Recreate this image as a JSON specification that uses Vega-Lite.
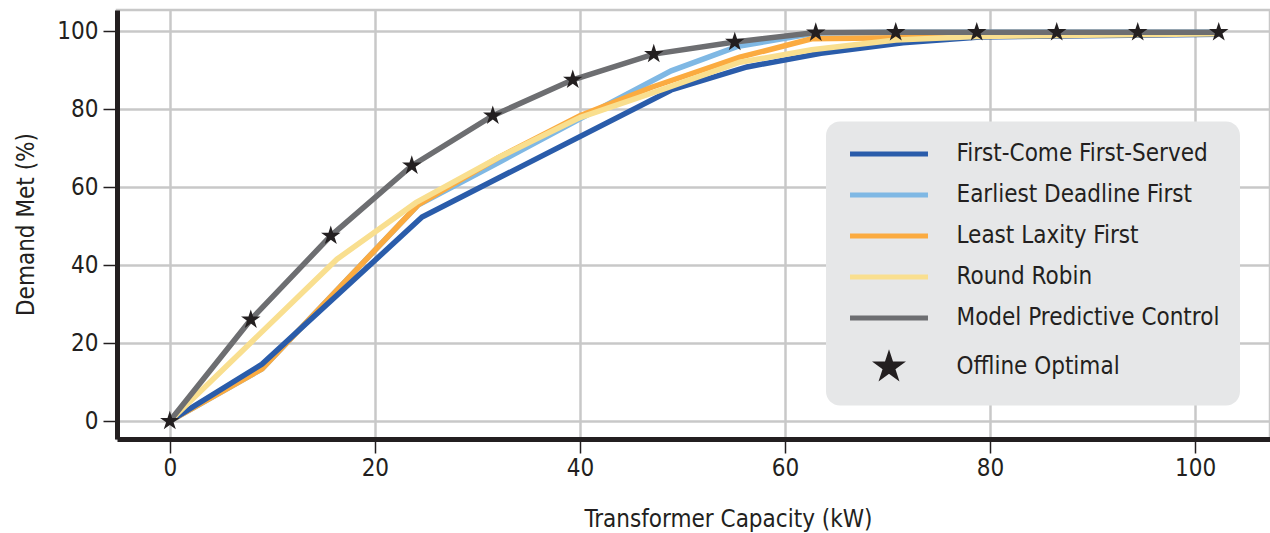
{
  "$schema": "https://vega.github.io/schema/vega-lite/v6.json",
  "width": 1153,
  "height": 429,
  "autosize": {"type": "none"},
  "padding": {"left": 117, "top": 10, "right": 0, "bottom": 94},
  "background": "white",
  "config": {
    "font": "DejaVu Sans Condensed",
    "view": {"stroke": "#c8c8c8", "strokeWidth": 2.5},
    "axis": {
      "gridColor": "#c8c8c8",
      "gridWidth": 2.5,
      "gridOpacity": 1,
      "domainColor": "#231f20",
      "domainWidth": 5,
      "tickColor": "#231f20",
      "tickWidth": 1.5,
      "tickSize": 14,
      "labelFont": "DejaVu Sans Condensed",
      "labelFontSize": 24,
      "labelColor": "#231f20",
      "titleFont": "DejaVu Sans Condensed",
      "titleFontSize": 24,
      "titleFontWeight": "normal",
      "titleColor": "#231f20"
    }
  },
  "datasets": {
    "lines": [
      {"method": "Earliest Deadline First", "capacity": 0, "demand": 0},
      {"method": "Earliest Deadline First", "capacity": 9, "demand": 13.4},
      {"method": "Earliest Deadline First", "capacity": 24.2, "demand": 55.4},
      {"method": "Earliest Deadline First", "capacity": 32.2, "demand": 66.5},
      {"method": "Earliest Deadline First", "capacity": 40, "demand": 77.5},
      {"method": "Earliest Deadline First", "capacity": 48.9, "demand": 89.8},
      {"method": "Earliest Deadline First", "capacity": 55.3, "demand": 96},
      {"method": "Earliest Deadline First", "capacity": 63, "demand": 99.5},
      {"method": "Earliest Deadline First", "capacity": 70.8, "demand": 99.7},
      {"method": "Earliest Deadline First", "capacity": 102.3, "demand": 99.7},
      {"method": "Least Laxity First", "capacity": 0, "demand": 0},
      {"method": "Least Laxity First", "capacity": 9, "demand": 13.4},
      {"method": "Least Laxity First", "capacity": 24.2, "demand": 55.4},
      {"method": "Least Laxity First", "capacity": 32, "demand": 67.5},
      {"method": "Least Laxity First", "capacity": 40, "demand": 78.3},
      {"method": "Least Laxity First", "capacity": 47, "demand": 85.6},
      {"method": "Least Laxity First", "capacity": 55.6, "demand": 93.3},
      {"method": "Least Laxity First", "capacity": 62.6, "demand": 98},
      {"method": "Least Laxity First", "capacity": 70.8, "demand": 98.3},
      {"method": "Least Laxity First", "capacity": 78.7, "demand": 98.6},
      {"method": "Least Laxity First", "capacity": 102.3, "demand": 99.3},
      {"method": "First-Come First-Served", "capacity": 0, "demand": 0},
      {"method": "First-Come First-Served", "capacity": 9, "demand": 14.6},
      {"method": "First-Come First-Served", "capacity": 24.6, "demand": 52.3},
      {"method": "First-Come First-Served", "capacity": 48.9, "demand": 84.9},
      {"method": "First-Come First-Served", "capacity": 56.3, "demand": 90.8},
      {"method": "First-Come First-Served", "capacity": 63.5, "demand": 94.3},
      {"method": "First-Come First-Served", "capacity": 71.5, "demand": 97},
      {"method": "First-Come First-Served", "capacity": 79, "demand": 98.5},
      {"method": "First-Come First-Served", "capacity": 102.3, "demand": 99.2},
      {"method": "Round Robin", "capacity": 0, "demand": 0},
      {"method": "Round Robin", "capacity": 16.3, "demand": 41.5},
      {"method": "Round Robin", "capacity": 24, "demand": 56},
      {"method": "Round Robin", "capacity": 32, "demand": 67.5},
      {"method": "Round Robin", "capacity": 40, "demand": 77.8},
      {"method": "Round Robin", "capacity": 48, "demand": 85},
      {"method": "Round Robin", "capacity": 55.6, "demand": 92},
      {"method": "Round Robin", "capacity": 62.6, "demand": 95.2},
      {"method": "Round Robin", "capacity": 70.8, "demand": 97.7},
      {"method": "Round Robin", "capacity": 78.7, "demand": 98.6},
      {"method": "Round Robin", "capacity": 102.3, "demand": 99.3},
      {"method": "Model Predictive Control", "capacity": 0, "demand": 0},
      {"method": "Model Predictive Control", "capacity": 7.9, "demand": 26},
      {"method": "Model Predictive Control", "capacity": 15.7, "demand": 47.5},
      {"method": "Model Predictive Control", "capacity": 23.6, "demand": 65.5},
      {"method": "Model Predictive Control", "capacity": 31.5, "demand": 78.3},
      {"method": "Model Predictive Control", "capacity": 39.3, "demand": 87.5},
      {"method": "Model Predictive Control", "capacity": 47.2, "demand": 94.1},
      {"method": "Model Predictive Control", "capacity": 55.1, "demand": 97.2},
      {"method": "Model Predictive Control", "capacity": 63, "demand": 99.6},
      {"method": "Model Predictive Control", "capacity": 70.8, "demand": 99.7},
      {"method": "Model Predictive Control", "capacity": 78.7, "demand": 99.7},
      {"method": "Model Predictive Control", "capacity": 86.5, "demand": 99.7},
      {"method": "Model Predictive Control", "capacity": 94.4, "demand": 99.7},
      {"method": "Model Predictive Control", "capacity": 102.3, "demand": 99.7}
    ],
    "stars": [
      {"method": "Offline Optimal", "capacity": 0, "demand": 0},
      {"method": "Offline Optimal", "capacity": 7.9, "demand": 26},
      {"method": "Offline Optimal", "capacity": 15.7, "demand": 47.5},
      {"method": "Offline Optimal", "capacity": 23.6, "demand": 65.5},
      {"method": "Offline Optimal", "capacity": 31.5, "demand": 78.3},
      {"method": "Offline Optimal", "capacity": 39.3, "demand": 87.5},
      {"method": "Offline Optimal", "capacity": 47.2, "demand": 94.1},
      {"method": "Offline Optimal", "capacity": 55.1, "demand": 97.2},
      {"method": "Offline Optimal", "capacity": 63, "demand": 99.6},
      {"method": "Offline Optimal", "capacity": 70.8, "demand": 99.7},
      {"method": "Offline Optimal", "capacity": 78.7, "demand": 99.7},
      {"method": "Offline Optimal", "capacity": 86.5, "demand": 99.7},
      {"method": "Offline Optimal", "capacity": 94.4, "demand": 99.7},
      {"method": "Offline Optimal", "capacity": 102.3, "demand": 99.7}
    ]
  },
  "encoding": {
    "x": {
      "field": "capacity",
      "type": "quantitative",
      "scale": {"domain": [-5.15, 107.3], "nice": false, "zero": false},
      "axis": {
        "title": "Transformer Capacity (kW)",
        "values": [0, 20, 40, 60, 80, 100],
        "labelPadding": 3,
        "titleX": 611,
        "titleY": 87,
        "titleBaseline": "alphabetic",
        "titleAlign": "center"
      }
    },
    "y": {
      "field": "demand",
      "type": "quantitative",
      "scale": {"domain": [-4.6, 105.4], "nice": false, "zero": false},
      "axis": {
        "title": "Demand Met (%)",
        "values": [0, 20, 40, 60, 80, 100],
        "labelPadding": 5,
        "titleX": -84,
        "titleY": 214,
        "titleAngle": -90,
        "titleBaseline": "alphabetic",
        "titleAlign": "center"
      }
    },
    "color": {
      "field": "method",
      "type": "nominal",
      "scale": {
        "domain": ["First-Come First-Served", "Earliest Deadline First", "Least Laxity First", "Round Robin", "Model Predictive Control", "Offline Optimal"],
        "range": ["#2a5caa", "#7fb8e4", "#fbab40", "#f9df8f", "#6d6e71", "#231f20"]
      },
      "legend": {
        "title": null,
        "orient": "none",
        "legendX": 709,
        "legendY": 111.5,
        "fillColor": "#e6e7e8",
        "cornerRadius": 14,
        "padding": 20,
        "symbolSize": 380,
        "symbolStrokeWidth": 5,
        "symbolOffset": 30.5,
        "labelOffset": 55,
        "rowPadding": 16,
        "labelFont": "DejaVu Sans Condensed",
        "labelFontSize": 24,
        "labelColor": "#231f20",
        "labelLimit": 500,
        "encode": {
          "symbols": {
            "update": {
              "size": {"value": 380},
              "stroke": [
                {"test": "datum.value === 'Offline Optimal'", "value": "transparent"},
                {"scale": "color", "field": "value"}
              ],
              "fill": [
                {"test": "datum.value === 'Offline Optimal'", "scale": "color", "field": "value"},
                {"value": "transparent"}
              ],
              "opacity": {"value": 1}
            }
          }
        }
      }
    }
  },
  "layer": [
    {
      "data": {"name": "lines"},
      "mark": {"type": "line", "strokeWidth": 5.5}
    },
    {
      "data": {"name": "stars"},
      "mark": {"type": "point", "filled": true, "opacity": 1, "size": 420, "strokeWidth": 0},
      "encoding": {
        "shape": {
          "field": "method",
          "type": "nominal",
          "scale": {
            "domain": ["First-Come First-Served", "Earliest Deadline First", "Least Laxity First", "Round Robin", "Model Predictive Control", "Offline Optimal"],
            "range": ["M-4,0H4", "M-4,0H4", "M-4,0H4", "M-4,0H4", "M-4,0H4", "M0,-1L0.225,-0.309L0.951,-0.309L0.363,0.118L0.588,0.809L0,0.382L-0.588,0.809L-0.363,0.118L-0.951,-0.309L-0.225,-0.309Z"]
          },
          "legend": {
            "title": null,
            "orient": "none",
            "legendX": 709,
            "legendY": 111.5,
            "fillColor": "#e6e7e8",
            "cornerRadius": 14,
            "padding": 20,
            "symbolSize": 380,
            "symbolStrokeWidth": 5,
            "symbolOffset": 30.5,
            "labelOffset": 55,
            "rowPadding": 16,
            "labelFont": "DejaVu Sans Condensed",
            "labelFontSize": 24,
            "labelColor": "#231f20",
            "labelLimit": 500
          }
        }
      }
    }
  ]
}
